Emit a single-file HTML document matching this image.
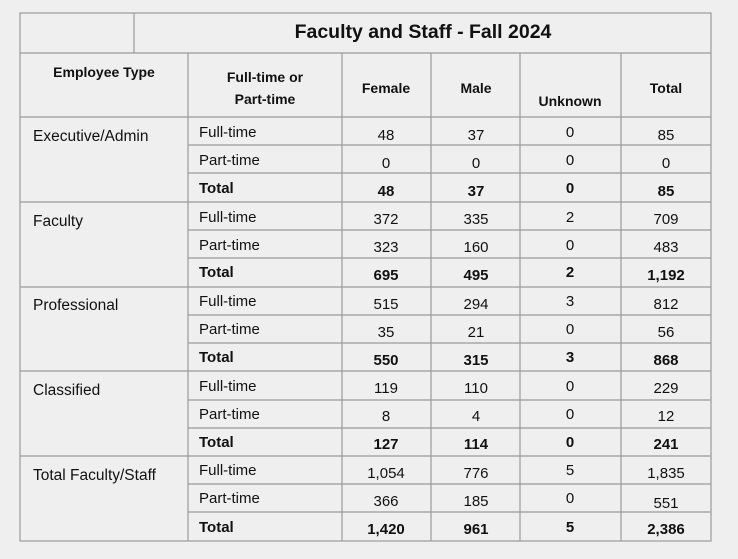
<!DOCTYPE html>
<html><head><meta charset="utf-8"><style>
html,body{margin:0;padding:0;background:#f0efef;}
svg{display:block;}
text{font-family:"Liberation Sans",sans-serif;fill:#111;}
.b{font-weight:bold;}
</style></head><body>
<svg width="738" height="559" viewBox="0 0 738 559" xmlns="http://www.w3.org/2000/svg">
<rect width="738" height="559" fill="#f0efef"/>
<g stroke="#9a9a9a" stroke-width="1.2" fill="none">
<rect x="20" y="13" width="691" height="528"/>
<line x1="134" y1="13" x2="134" y2="53"/>
<line x1="20" y1="53" x2="711" y2="53"/>
<line x1="20" y1="117" x2="711" y2="117"/>
<line x1="188" y1="53" x2="188" y2="541"/>
<line x1="342" y1="53" x2="342" y2="541"/>
<line x1="431" y1="53" x2="431" y2="541"/>
<line x1="520" y1="53" x2="520" y2="541"/>
<line x1="621" y1="53" x2="621" y2="541"/>
<line x1="20" y1="202" x2="711" y2="202"/>
<line x1="20" y1="287" x2="711" y2="287"/>
<line x1="20" y1="371" x2="711" y2="371"/>
<line x1="20" y1="456" x2="711" y2="456"/>
<line x1="188" y1="145" x2="711" y2="145"/><line x1="188" y1="173" x2="711" y2="173"/>
<line x1="188" y1="230" x2="711" y2="230"/><line x1="188" y1="258" x2="711" y2="258"/>
<line x1="188" y1="315" x2="711" y2="315"/><line x1="188" y1="343" x2="711" y2="343"/>
<line x1="188" y1="400" x2="711" y2="400"/><line x1="188" y1="428" x2="711" y2="428"/>
<line x1="188" y1="484" x2="711" y2="484"/><line x1="188" y1="512" x2="711" y2="512"/>
</g>
<text x="423" y="38" class="b" font-size="19.5" text-anchor="middle">Faculty and Staff - Fall 2024</text>
<g font-size="14" text-anchor="middle">
<text x="104" y="77" class="b">Employee Type</text>
<text x="265" y="82" class="b">Full-time or</text>
<text x="265" y="104" class="b">Part-time</text>
<text x="386" y="93" class="b">Female</text>
<text x="476" y="93" class="b">Male</text>
<text x="570" y="106" class="b">Unknown</text>
<text x="666" y="93" class="b">Total</text>
</g>
<g font-size="15.5">
<text x="33" y="141">Executive/Admin</text>
<text x="33" y="226">Faculty</text>
<text x="33" y="310">Professional</text>
<text x="33" y="395">Classified</text>
<text x="33" y="480">Total Faculty/Staff</text>
</g>
<g font-size="15">
<text x="199" y="137">Full-time</text><text x="199" y="165">Part-time</text><text x="199" y="193" class="b">Total</text>
<text x="199" y="222">Full-time</text><text x="199" y="250">Part-time</text><text x="199" y="277" class="b">Total</text>
<text x="199" y="306">Full-time</text><text x="199" y="334">Part-time</text><text x="199" y="362" class="b">Total</text>
<text x="199" y="391">Full-time</text><text x="199" y="419">Part-time</text><text x="199" y="447" class="b">Total</text>
<text x="199" y="475">Full-time</text><text x="199" y="503">Part-time</text><text x="199" y="532" class="b">Total</text>
</g>
<g font-size="15" text-anchor="middle">
<text x="386" y="140">48</text><text x="476" y="140">37</text><text x="570" y="137">0</text><text x="666" y="140">85</text>
<text x="386" y="168">0</text><text x="476" y="168">0</text><text x="570" y="165">0</text><text x="666" y="168">0</text>
<text x="386" y="196" class="b">48</text><text x="476" y="196" class="b">37</text><text x="570" y="193" class="b">0</text><text x="666" y="196" class="b">85</text>

<text x="386" y="224">372</text><text x="476" y="224">335</text><text x="570" y="222">2</text><text x="666" y="224">709</text>
<text x="386" y="252">323</text><text x="476" y="252">160</text><text x="570" y="250">0</text><text x="666" y="252">483</text>
<text x="386" y="280" class="b">695</text><text x="476" y="280" class="b">495</text><text x="570" y="277" class="b">2</text><text x="666" y="280" class="b">1,192</text>

<text x="386" y="309">515</text><text x="476" y="309">294</text><text x="570" y="306">3</text><text x="666" y="309">812</text>
<text x="386" y="337">35</text><text x="476" y="337">21</text><text x="570" y="334">0</text><text x="666" y="337">56</text>
<text x="386" y="365" class="b">550</text><text x="476" y="365" class="b">315</text><text x="570" y="362" class="b">3</text><text x="666" y="365" class="b">868</text>

<text x="386" y="393">119</text><text x="476" y="393">110</text><text x="570" y="391">0</text><text x="666" y="393">229</text>
<text x="386" y="421">8</text><text x="476" y="421">4</text><text x="570" y="419">0</text><text x="666" y="421">12</text>
<text x="386" y="449" class="b">127</text><text x="476" y="449" class="b">114</text><text x="570" y="447" class="b">0</text><text x="666" y="449" class="b">241</text>

<text x="386" y="478">1,054</text><text x="476" y="478">776</text><text x="570" y="475">5</text><text x="666" y="478">1,835</text>
<text x="386" y="506">366</text><text x="476" y="506">185</text><text x="570" y="503">0</text><text x="666" y="508">551</text>
<text x="386" y="534" class="b">1,420</text><text x="476" y="534" class="b">961</text><text x="570" y="532" class="b">5</text><text x="666" y="534" class="b">2,386</text>
</g>
</svg>
</body></html>
